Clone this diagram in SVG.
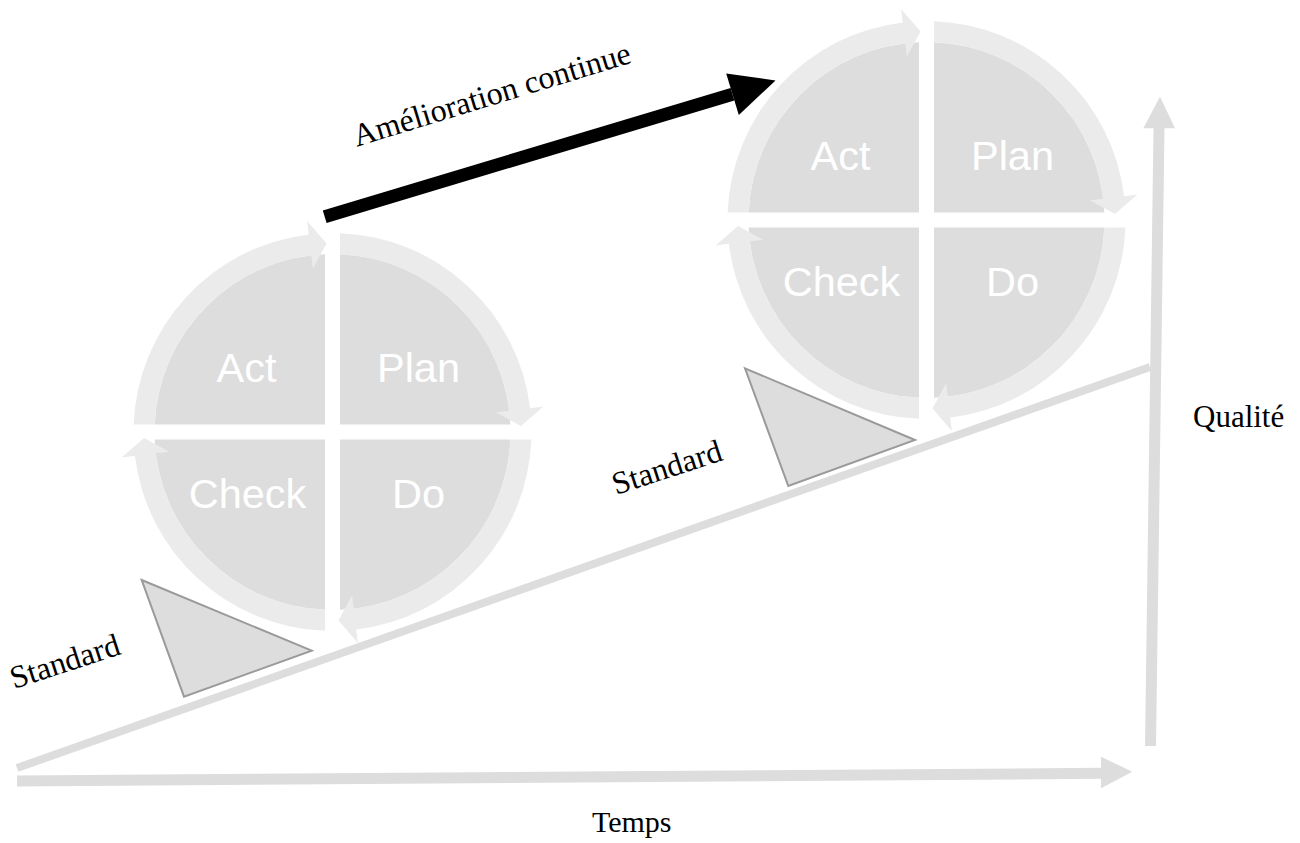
<svg xmlns="http://www.w3.org/2000/svg" xmlns:xlink="http://www.w3.org/1999/xlink" width="1300" height="843" viewBox="0 0 1300 843">
  <style>
    .quad { fill: #dddddd; }
    .ring { fill: #ebebeb; }
    .ptxt { font-family: "Liberation Sans", Arial, sans-serif; font-size: 41.5px; fill: #ffffff; text-anchor: middle; }
    .lbl { font-family: "Liberation Serif", "Times New Roman", serif; font-size: 30px; fill: #000000; }
    .axis { fill: #dddddd; }
    .tri { fill: #dddddd; stroke: #9a9a9a; stroke-width: 2; stroke-linejoin: miter; }
  </style>
  <defs>
    <path id="q" d="M -7.5 -7.5 L -177.84 -7.5 A 178 178 0 0 1 -7.5 -177.84 Z"/>
    <path id="ra" d="M -198.86 -7.5 A 199 199 0 0 1 -23.77 -197.58 L -25.38 -210.98 L -5.99 -188.41 L -19.65 -163.32 L -21.26 -176.73 A 178 178 0 0 0 -177.84 -7.5 Z"/>
  </defs>
  <rect x="0" y="0" width="1300" height="843" fill="#ffffff"/>

  <g id="connectors">
    <line id="slope" x1="17" y1="768" x2="1150" y2="367" stroke="#dddddd" stroke-width="8"/>
    <g id="axis-temps" class="axis">
      <polygon points="17,775.5 1101,767.8 1101,778.8 17,786.5"/>
      <polygon points="1101,756.7 1132.3,771.7 1101,788.3"/>
    </g>
    <g id="axis-qualite" class="axis">
      <polygon points="1145,746 1156,746 1164.5,128 1153.5,128"/>
      <polygon points="1143.3,128.3 1160,96.7 1175,128.3"/>
    </g>
    <g id="arrow-amelioration" fill="#000000">
      <polygon points="322.8,210.5 730.6,88.0 734.4,100.4 326.6,222.9"/>
      <polygon points="726.2,73.4 775.5,80.5 738.8,115"/>
    </g>
  </g>

  <g id="standard1">
    <polygon class="tri" points="141.7,580 311.7,650.7 184,696.7"/>
  </g>
  <g id="standard2">
    <polygon class="tri" points="745,368.3 915,440 788.3,486"/>
  </g>

  <g id="pdca1" transform="translate(332.5,432)">
    <use xlink:href="#q" class="quad"/>
    <use xlink:href="#q" class="quad" transform="rotate(90)"/>
    <use xlink:href="#q" class="quad" transform="rotate(180)"/>
    <use xlink:href="#q" class="quad" transform="rotate(270)"/>
    <use xlink:href="#ra" class="ring"/>
    <use xlink:href="#ra" class="ring" transform="rotate(90)"/>
    <use xlink:href="#ra" class="ring" transform="rotate(180)"/>
    <use xlink:href="#ra" class="ring" transform="rotate(270)"/>
    <text class="ptxt" x="-86" y="-50">Act</text>
    <text class="ptxt" x="86" y="-50">Plan</text>
    <text class="ptxt" x="-85" y="76">Check</text>
    <text class="ptxt" x="86" y="76">Do</text>
  </g>

  <g id="pdca2" transform="translate(926.5,220)">
    <use xlink:href="#q" class="quad"/>
    <use xlink:href="#q" class="quad" transform="rotate(90)"/>
    <use xlink:href="#q" class="quad" transform="rotate(180)"/>
    <use xlink:href="#q" class="quad" transform="rotate(270)"/>
    <use xlink:href="#ra" class="ring"/>
    <use xlink:href="#ra" class="ring" transform="rotate(90)"/>
    <use xlink:href="#ra" class="ring" transform="rotate(180)"/>
    <use xlink:href="#ra" class="ring" transform="rotate(270)"/>
    <text class="ptxt" x="-86" y="-50">Act</text>
    <text class="ptxt" x="86" y="-50">Plan</text>
    <text class="ptxt" x="-85" y="76">Check</text>
    <text class="ptxt" x="86" y="76">Do</text>
  </g>

  <g id="labels">
    <text class="lbl" style="font-size:32px" transform="translate(356.7,146.7) rotate(-17)">Amélioration continue</text>
    <text class="lbl" style="font-size:32px" transform="translate(14,689) rotate(-18)">Standard</text>
    <text class="lbl" style="font-size:32px" transform="translate(616,495) rotate(-18)">Standard</text>
    <text class="lbl" style="font-size:31px" x="1193" y="426.7">Qualité</text>
    <text class="lbl" x="631.7" y="831.7" text-anchor="middle">Temps</text>
  </g>
</svg>
